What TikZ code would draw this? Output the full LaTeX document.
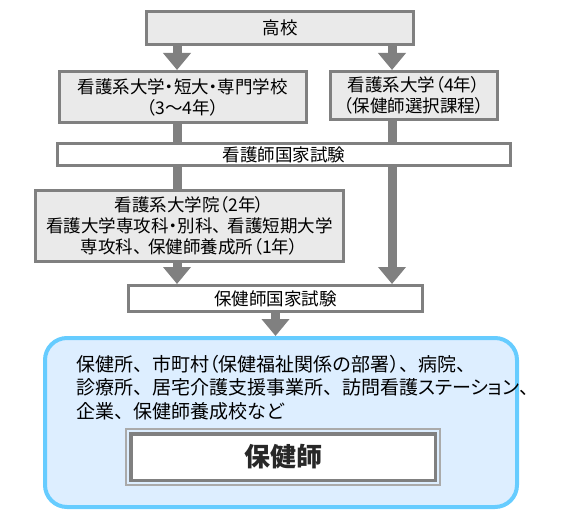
\documentclass[tikz,border=0pt]{standalone}
\usepackage{fontspec}
\usepackage{graphicx}
\setmainfont{Noto Sans CJK JP}
\newfontfamily\paltfont[RawFeature=+palt]{Noto Sans CJK JP}
\usetikzlibrary{arrows.meta}
\definecolor{boxgray}{RGB}{234,234,234}
\definecolor{linegray}{RGB}{128,128,128}
\definecolor{framegray}{RGB}{170,170,170}
\definecolor{bluefill}{RGB}{221,238,255}
\definecolor{blueline}{RGB}{102,204,255}
\definecolor{darktext}{RGB}{40,40,40}
\newcommand{\tou}{、\hspace{0.35em}}
\newcommand{\pl}[1]{{\paltfont #1}}
\tikzset{
  graybox/.style={draw=linegray, line width=3pt, fill=boxgray, align=center,
    inner sep=0pt, font=\paltfont\fontsize{17.5}{21}\selectfont},
  whitebox/.style={graybox, fill=white},
  arr/.style={draw=linegray, line width=9pt, -{Triangle[width=27pt,length=17pt]}},
  conn/.style={draw=linegray, line width=9pt},
}
\begin{document}
\begin{tikzpicture}[x=1pt,y=-1pt]
\useasboundingbox (0,0) rectangle (564,521);
\coordinate (cl) at (177,0);
\coordinate (cr) at (392,0);

\node[graybox, minimum width=267, minimum height=33] (koko) at (280,28) {高校};
\node[graybox, minimum width=247.5, minimum height=51] (box2) at (182.75,97)
  {看護系大学・短大・専門学校\\（3〜4年）};
\node[graybox, minimum width=167, minimum height=48] (box3) at (414,95.5)
  {看護系大学（4年）\\（保健師選択課程）};
\node[whitebox, minimum width=453, minimum height=22] (bar) at (284,154.5) {看護師国家試験};
\node[graybox, minimum width=308, minimum height=71] (box4) at (189.5,226)
  {看護系大学院（2年）\\看護大学専攻科・別科\tou 看護短期大学\\専攻科\tou 保健師養成所（1年）};
\node[whitebox, minimum width=294, minimum height=26] (exam2) at (275.5,298.5) {保健師国家試験};

\node[draw=blueline, line width=4pt, fill=bluefill, rounded corners=22pt,
  minimum width=472, minimum height=169] (blue) at (281,422.5) {};
\node[anchor=north west, align=left, inner sep=0pt, font=\fontsize{19}{23.5}\selectfont] (places) at (76,355)
  {保健所、市町村\pl{（}保健福祉関係の部署\pl{）}、病院、\\
   診療所、居宅介護支援事業所、訪問看護\pl{ステーション}、\\
   企業、保健師養成校など};
\node[draw=framegray, line width=2pt, minimum width=314, minimum height=56] (hsframe) at (283,457) {};
\node[draw=linegray, line width=3.5pt, fill=white, minimum width=304.5, minimum height=46.5,
  text=darktext, font=\fontsize{26}{30}\selectfont\bfseries] (hoken) at (283,457) {保健師};

\draw[arr] (koko.south -| cl) -- (box2.north -| cl);
\draw[arr] (koko.south -| cr) -- (box3.north -| cr);
\draw[conn] (box2.south -| cl) -- (bar.north -| cl);
\draw[conn] (box3.south -| cr) -- (bar.north -| cr);
\draw[conn] (bar.south -| cl) -- (box4.north -| cl);
\draw[arr] (bar.south -| cr) -- (exam2.north -| cr);
\draw[arr] (box4.south -| cl) -- (exam2.north -| cl);
\draw[arr] (exam2.south) -- (exam2.south |- blue.north);
\end{tikzpicture}
\end{document}
